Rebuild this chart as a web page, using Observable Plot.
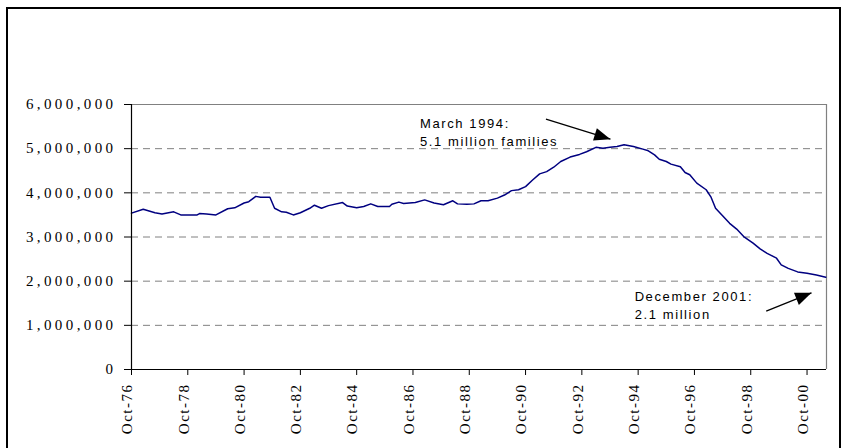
<!DOCTYPE html>
<html><head><meta charset="utf-8">
<script src="https://cdn.jsdelivr.net/npm/d3@7"></script>
<script src="https://cdn.jsdelivr.net/npm/@observablehq/plot@0.6"></script>
<style>
html,body{margin:0;padding:0;background:#fff;}
#chart{position:absolute;left:0;top:0;}
#frame{position:absolute;left:6px;top:7px;width:835px;height:470px;border:2px solid #000;box-sizing:border-box;pointer-events:none;}
g[aria-label="y-axis tick label"]{letter-spacing:3.4px;font-family:"Liberation Serif",serif;font-size:15px;}
g[aria-label="x-axis tick label"]{letter-spacing:1.5px;font-family:"Liberation Serif",serif;font-size:15px;}
g[aria-label="text"]{letter-spacing:1.6px;font-family:"Liberation Sans",sans-serif;font-size:13px;}
</style></head><body>
<div id="chart"></div><div id="frame"></div>
<script>
// Months counted from Oct-76 (index of the monthly category)
const month = [0,5,10,13,18,21,28,29,32,36,41,44,48,50,53,55,59,61,64,66,69,72,76,78,81,84,90,92,96,99,102,105,110,111,114,116,121,125,129,133,137,139,143,146,149,152,156,159,162,165,168,171,174,177,180,183,187,191,194,198,201,204,207,210,214,218,220,223,225,228,230,234,236,238,241,245,247,249,252,255,258,261,265,268,271,275,277,280,284,288,292,296];
// Families (millions)
const familiesM = [3.54,3.63,3.55,3.52,3.57,3.50,3.50,3.53,3.52,3.50,3.64,3.66,3.77,3.80,3.92,3.90,3.90,3.65,3.57,3.56,3.50,3.55,3.65,3.72,3.65,3.71,3.78,3.70,3.66,3.69,3.75,3.69,3.69,3.74,3.79,3.76,3.78,3.84,3.77,3.73,3.82,3.75,3.74,3.75,3.82,3.82,3.88,3.95,4.05,4.07,4.14,4.29,4.43,4.48,4.58,4.71,4.81,4.87,4.93,5.03,5.01,5.03,5.05,5.09,5.05,4.99,4.96,4.86,4.76,4.71,4.65,4.59,4.46,4.41,4.22,4.07,3.91,3.65,3.48,3.31,3.18,3.01,2.86,2.73,2.63,2.52,2.37,2.29,2.21,2.18,2.14,2.09];
const tickMonths = [0,24,48,72,96,120,144,168,192,216,240,264,288];
const tickLabels = ["Oct-76","Oct-78","Oct-80","Oct-82","Oct-84","Oct-86","Oct-88","Oct-90","Oct-92","Oct-94","Oct-96","Oct-98","Oct-00"];
const yTicks = [0,1000000,2000000,3000000,4000000,5000000,6000000];
const gridValues = [1000000,2000000,3000000,4000000,5000000];
const xEnd = 296.3;

const noteText = ["March 1994:\n5.1 million families", "December 2001:\n2.1 million"];
const noteMonth = [123, 214.5];
const noteValue = [5767000, 1837000];
const arrowFromMonth = [176.7, 270.6];
const arrowFromValue = [5669000, 1322000];
const arrowToMonth = [204.2, 289.9];
const arrowToValue = [5215000, 1737000];

const data = month.map((m, i) => ({month: m, value: familiesM[i] * 1e6}));
const notes = noteText.map((t, i) => ({text: t, month: noteMonth[i], value: noteValue[i]}));
const arrows = arrowFromMonth.map((m, i) => ({x1: m, y1: arrowFromValue[i], x2: arrowToMonth[i], y2: arrowToValue[i]}));

const head = {
  draw(ctx, size) {
    const r = Math.sqrt(size / Math.PI);
    ctx.moveTo(0, 0);
    ctx.lineTo(-r, 2.5 * r);
    ctx.lineTo(r, 2.5 * r);
    ctx.closePath();
  }
};

const base = {
  width: 848, height: 448,
  marginLeft: 131, marginRight: 22, marginTop: 104, marginBottom: 79,
  x: {domain: [0, xEnd], axis: null},
  y: {domain: [0, 6000000], axis: null},
  style: {background: "transparent", color: "black"}
};

function build(withHeads) {
  const marks = [
    Plot.ruleY(gridValues, {stroke: "#808080", strokeDasharray: "7,5", strokeWidth: 1}),
    Plot.ruleY([6000000], {stroke: "#808080", strokeWidth: 1}),
    Plot.ruleX([xEnd], {stroke: "#808080", strokeWidth: 1.2}),
    Plot.line(data, {x: "month", y: "value", stroke: "#000080", strokeWidth: 1.5}),
    Plot.ruleX([0], {stroke: "black", strokeWidth: 1.2}),
    Plot.ruleY([0], {stroke: "black", strokeWidth: 1.2}),
    Plot.axisY(yTicks, {tickSize: 7, tickPadding: 8, tickFormat: d3.format(","), fontFamily: "Liberation Serif", fontSize: 15, stroke: "black"}),
    Plot.axisX(tickMonths, {tickSize: 6, text: null, stroke: "black"}),
    Plot.axisX(tickMonths, {tickSize: 0, tickPadding: 14, tickRotate: -90, dx: -4, tickFormat: d => tickLabels[tickMonths.indexOf(d)], fontFamily: "Liberation Serif", fontSize: 15}),
    Plot.text(notes, {x: "month", y: "value", text: "text", textAnchor: "start", lineAnchor: "top", lineHeight: 1.4, fontFamily: "Liberation Sans", fontSize: 13, fill: "black"}),
    Plot.link(arrows, {x1: "x1", y1: "y1", x2: "x2", y2: "y2", stroke: "black", strokeWidth: 1.3})
  ];
  if (withHeads) marks.push(Plot.dot(withHeads, {x: "x2", y: "y2", symbol: head, r: 6.5, fill: "black", stroke: "none", rotate: "angle"}));
  return Plot.plot({...base, marks});
}

const first = build(null);
const sx = first.scale("x"), sy = first.scale("y");
const heads = arrows.map(a => {
  const dx = sx.apply(a.x2) - sx.apply(a.x1);
  const dy = sy.apply(a.y2) - sy.apply(a.y1);
  return {...a, angle: Math.atan2(dx, -dy) * 180 / Math.PI};
});
document.getElementById("chart").append(build(heads));
</script>
</body></html>
